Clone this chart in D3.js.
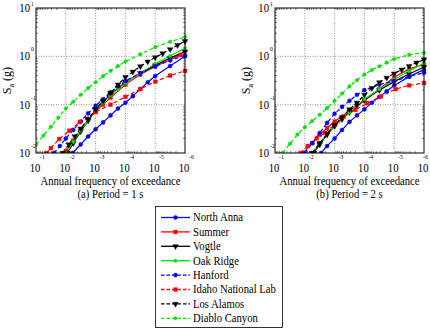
<!DOCTYPE html>
<html><head><meta charset="utf-8">
<script src="https://cdn.jsdelivr.net/npm/d3@7"></script>
<style>
body{margin:0;background:#fff}
svg{display:block}
</style>
</head><body>
<svg id="chart" width="430" height="330" font-family="'Liberation Serif','DejaVu Serif',serif"></svg>
<script>
// ---------- DATA ([annual frequency of exceedance, Sa (g)]) ----------
const siteNames = ["North Anna","Summer","Vogtle","Oak Ridge","Hanford","Idaho National Lab","Los Alamos","Diablo Canyon"];
const panelTitles = ["(a) Period = 1 s","(b) Period = 2 s"];
const xLabel = "Annual frequency of exceedance";
const xTickValues = [1e-1,1e-2,1e-3,1e-4,1e-5,1e-6];
const xTickExps = ["-1","-2","-3","-4","-5","-6"];
const yTickValues = [1e-2,1e-1,1,10];
const yTickExps = ["-2","-1","0","1"];

// Period = 1 s
const northAnna_T1 = [[5.89e-3,0.01],[3.16e-3,0.015],[1.78e-3,0.022],[1e-3,0.031],[5.62e-4,0.043],[3.16e-4,0.06],[1.78e-4,0.083],[1e-4,0.11],[5.62e-5,0.15],[3.16e-5,0.21],[1.78e-5,0.29],[1e-5,0.39],[3.16e-6,0.63],[1e-6,1.0]];
const summer_T1 = [[1e-2,0.011],[5.62e-3,0.018],[3.16e-3,0.03],[1.78e-3,0.048],[1e-3,0.072],[5.62e-4,0.1],[3.16e-4,0.14],[1e-4,0.26],[3.16e-5,0.42],[1e-5,0.62],[3.16e-6,0.85],[1.41e-6,1.07]];
const vogtle_T1 = [[8.91e-3,0.01],[5.62e-3,0.016],[3.16e-3,0.028],[1.78e-3,0.047],[1e-3,0.08],[5.62e-4,0.115],[3.16e-4,0.16],[1.78e-4,0.22],[1e-4,0.29],[3.16e-5,0.45],[1e-5,0.65],[3.16e-6,0.92],[1e-6,1.25]];
const oakRidge_T1 = [[1e-2,0.01],[5.62e-3,0.017],[3.16e-3,0.029],[1.78e-3,0.048],[1e-3,0.075],[5.62e-4,0.11],[3.16e-4,0.155],[1.78e-4,0.21],[1e-4,0.28],[3.16e-5,0.45],[1e-5,0.7],[3.16e-6,1.02],[1e-6,1.47]];
const hanford_T1 = [[2.51e-2,0.01],[1.58e-2,0.014],[1e-2,0.02],[5.62e-3,0.03],[3.16e-3,0.045],[1.78e-3,0.066],[1e-3,0.095],[5.62e-4,0.13],[3.16e-4,0.18],[1.78e-4,0.24],[1e-4,0.31],[3.16e-5,0.45],[1e-5,0.62],[3.16e-6,0.82],[1e-6,1.05]];
const idaho_T1 = [[4.47e-2,0.01],[3.16e-2,0.0126],[1.66e-2,0.0195],[7.59e-3,0.029],[3.39e-3,0.0436],[1e-3,0.07],[3.16e-4,0.1],[1e-4,0.145],[3.16e-5,0.21],[1e-5,0.3],[3.16e-6,0.4],[1e-6,0.5]];
const losAlamos_T1 = [[1.26e-2,0.01],[7.94e-3,0.015],[5.01e-3,0.022],[3.16e-3,0.032],[1.78e-3,0.05],[1e-3,0.08],[5.62e-4,0.12],[3.16e-4,0.175],[1.78e-4,0.26],[1e-4,0.37],[5.62e-5,0.48],[3.16e-5,0.62],[1.78e-5,0.78],[1e-5,0.95],[5.62e-6,1.15],[3.16e-6,1.4],[1.78e-6,1.7],[1e-6,2.05]];
const diablo_T1 = [[1e-1,0.015],[5.62e-2,0.023],[3.16e-2,0.035],[1.78e-2,0.054],[1e-2,0.083],[5.62e-3,0.115],[3.16e-3,0.16],[1.78e-3,0.22],[1e-3,0.29],[5.62e-4,0.39],[3.16e-4,0.5],[1.78e-4,0.63],[1e-4,0.78],[3.16e-5,1.1],[1e-5,1.55],[3.16e-6,2.0],[1e-6,2.5]];

// Period = 2 s
const northAnna_T2 = [[2.82e-3,0.01],[1.78e-3,0.014],[1e-3,0.02],[5.62e-4,0.03],[3.16e-4,0.044],[1.78e-4,0.06],[1e-4,0.08],[5.62e-5,0.11],[3.16e-5,0.145],[1.78e-5,0.19],[1e-5,0.25],[3.16e-6,0.38],[1e-6,0.53]];
const summer_T2 = [[1.12e-2,0.01],[5.62e-3,0.016],[3.16e-3,0.024],[1.78e-3,0.033],[1e-3,0.045],[3.16e-4,0.075],[1e-4,0.12],[3.16e-5,0.21],[1e-5,0.37],[3.16e-6,0.55],[1e-6,0.68]];
const vogtle_T2 = [[5.01e-3,0.01],[3.16e-3,0.015],[1.78e-3,0.024],[1e-3,0.036],[5.62e-4,0.05],[3.16e-4,0.07],[1.78e-4,0.095],[1e-4,0.125],[3.16e-5,0.2],[1e-5,0.3],[3.16e-6,0.43],[1e-6,0.6]];
const oakRidge_T2 = [[5.62e-3,0.01],[3.16e-3,0.016],[1.78e-3,0.025],[1e-3,0.037],[3.16e-4,0.07],[1e-4,0.13],[3.16e-5,0.21],[1e-5,0.33],[3.16e-6,0.5],[1e-6,0.72]];
const hanford_T2 = [[1e-2,0.01],[5.62e-3,0.016],[3.16e-3,0.026],[1.78e-3,0.042],[1e-3,0.065],[5.62e-4,0.09],[3.16e-4,0.12],[1.78e-4,0.16],[1e-4,0.2],[3.16e-5,0.26],[1e-5,0.31],[3.16e-6,0.38],[1e-6,0.46]];
const idaho_T2 = [[1.41e-2,0.01],[7.94e-3,0.014],[3.98e-3,0.02],[2.14e-3,0.026],[1e-3,0.038],[5.01e-4,0.057],[2.0e-4,0.078],[7.94e-5,0.107],[2.82e-5,0.147],[8.91e-6,0.21],[3.16e-6,0.25],[1e-6,0.28]];
const losAlamos_T2 = [[5.62e-3,0.01],[3.16e-3,0.016],[1.78e-3,0.025],[1e-3,0.038],[5.62e-4,0.055],[3.16e-4,0.08],[1.78e-4,0.11],[1e-4,0.16],[5.62e-5,0.22],[3.16e-5,0.29],[1.78e-5,0.36],[1e-5,0.44],[5.62e-6,0.53],[3.16e-6,0.63],[1.78e-6,0.74],[1e-6,0.86]];
const diablo_T2 = [[5.62e-2,0.01],[3.16e-2,0.0155],[1.78e-2,0.024],[1e-2,0.034],[5.62e-3,0.046],[3.16e-3,0.062],[1.78e-3,0.085],[1e-3,0.12],[5.62e-4,0.17],[3.16e-4,0.24],[1.78e-4,0.32],[1e-4,0.42],[5.62e-5,0.52],[3.16e-5,0.62],[1.78e-5,0.74],[1e-5,0.88],[3.16e-6,1.08],[1e-6,1.18]];

const seriesT1 = [northAnna_T1,summer_T1,vogtle_T1,oakRidge_T1,hanford_T1,idaho_T1,losAlamos_T1,diablo_T1];
const seriesT2 = [northAnna_T2,summer_T2,vogtle_T2,oakRidge_T2,hanford_T2,idaho_T2,losAlamos_T2,diablo_T2];

// ---------- STYLE ----------
const FONT = "'Liberation Serif','DejaVu Serif',serif";
const SQ = 0.89; // horizontal squeeze of the reference lettering
const colors = ["#0000ff","#ff0000","#000000","#00e000","#0000ff","#ff0000","#000000","#00e000"];
const dashed = [false,false,false,false,true,true,true,true];
const shapes = ["circle","square","tri","dot","circle","square","tri","dot"];

const svg = d3.select("#chart");
const plotTop = 8, plotBottom = 153, plotW = 149;
const panels = [{left:36, data:seriesT1, title:panelTitles[0]},{left:275, data:seriesT2, title:panelTitles[1]}];

function symbolPath(shape){
  if(shape==="circle") return d3.symbol(d3.symbolCircle, 13)();
  if(shape==="square") return d3.symbol(d3.symbolSquare, 14)();
  if(shape==="tri") return d3.symbol(d3.symbolTriangle, 14)();
  return d3.symbol(d3.symbolCircle, 10)();
}
// squeezed text placed at (x, y)
function stext(sel, x, y, size, str, anchor){
  return sel.append("text").attr("font-family",FONT).attr("fill","#000")
    .attr("transform",`scale(${SQ},1)`)
    .attr("x",(x/SQ).toFixed(2)).attr("y",y).attr("font-size",size)
    .attr("text-anchor",anchor||"start").text(str);
}

panels.forEach((p, pi) => {
  const x = d3.scaleLog().domain([1e-1,1e-6]).range([p.left, p.left+plotW]);
  const y = d3.scaleLog().domain([1e-2,10]).range([plotBottom, plotTop]);
  const g = svg.append("g");

  // grid
  xTickValues.slice(1,-1).forEach(v=>{
    g.append("line").attr("x1",x(v)).attr("x2",x(v)).attr("y1",plotTop).attr("y2",plotBottom)
      .attr("stroke","#777").attr("stroke-width",0.8).attr("stroke-dasharray","1,1.5");
  });
  yTickValues.slice(1,-1).forEach(v=>{
    g.append("line").attr("x1",p.left).attr("x2",p.left+plotW).attr("y1",y(v)).attr("y2",y(v))
      .attr("stroke","#777").attr("stroke-width",0.8).attr("stroke-dasharray","1,1.5");
  });

  // minor ticks
  const minorY = [];
  [0.01,0.1,1].forEach(d=>{for(let k=2;k<10;k++) minorY.push(d*k);});
  minorY.forEach(v=>{
    g.append("line").attr("x1",p.left).attr("x2",p.left+2).attr("y1",y(v)).attr("y2",y(v)).attr("stroke","#000").attr("stroke-width",0.5);
    g.append("line").attr("x1",p.left+plotW).attr("x2",p.left+plotW-2).attr("y1",y(v)).attr("y2",y(v)).attr("stroke","#000").attr("stroke-width",0.5);
  });
  const minorX = [];
  [1e-6,1e-5,1e-4,1e-3,1e-2].forEach(d=>{for(let k=2;k<10;k++) minorX.push(d*k);});
  minorX.forEach(v=>{
    g.append("line").attr("x1",x(v)).attr("x2",x(v)).attr("y1",plotBottom).attr("y2",plotBottom-2).attr("stroke","#000").attr("stroke-width",0.5);
    g.append("line").attr("x1",x(v)).attr("x2",x(v)).attr("y1",plotTop).attr("y2",plotTop+2).attr("stroke","#000").attr("stroke-width",0.5);
  });

  // clip
  const cid = "clip"+pi;
  svg.append("clipPath").attr("id",cid).append("rect")
    .attr("x",p.left).attr("y",plotTop-3).attr("width",plotW+3).attr("height",plotBottom-plotTop+3);
  const cg = g.append("g").attr("clip-path",`url(#${cid})`);
  const line = d3.line().x(d=>x(d[0])).y(d=>y(d[1]));

  p.data.forEach((s, i) => {
    cg.append("path").datum(s).attr("d",line).attr("fill","none")
      .attr("stroke",colors[i]).attr("stroke-width",1.2)
      .attr("stroke-dasharray",dashed[i]?"4,2.5":null);
  });
  p.data.forEach((s, i) => {
    cg.selectAll(null).data(s).enter().append("path")
      .attr("d",symbolPath(shapes[i]))
      .attr("transform",d=>`translate(${x(d[0])},${y(d[1])})`+(shapes[i]==="tri"?" rotate(180)":""))
      .attr("fill",colors[i]).attr("stroke",colors[i]).attr("stroke-width",0.4);
  });

  // frame
  g.append("rect").attr("x",p.left).attr("y",plotTop).attr("width",plotW).attr("height",plotBottom-plotTop)
    .attr("fill","none").attr("stroke","#000").attr("stroke-width",1);

  // x tick labels
  xTickValues.forEach((v,k)=>{
    stext(g, x(v)-1, 172, 12, "10", "middle");
    stext(g, Math.min(x(v)+4, 423), 159.5, 6.5, xTickExps[k]);
  });
  // y tick labels
  yTickValues.forEach((v,k)=>{
    stext(g, p.left-6, y(v)+4, 12, "10", "end");
    stext(g, p.left-5, Math.max(y(v)-5, 6), 6.5, yTickExps[k]);
  });
  // axis labels
  stext(g, p.left+plotW/2, 185, 12, xLabel, "middle");
  stext(g, p.left+plotW/2, 198, 12, p.title, "middle");
  const yl = g.append("text").attr("font-family",FONT).attr("fill","#000")
    .attr("transform",`translate(${p.left-25.5},${(plotTop+plotBottom)/2}) rotate(-90)`)
    .attr("text-anchor","middle").attr("font-size",12);
  yl.append("tspan").text("S");
  yl.append("tspan").attr("font-size",8).attr("dy",3).text("a");
  yl.append("tspan").attr("dy",-3).text(" (g)");
});

// legend
const lg = svg.append("g");
lg.append("rect").attr("x",155.5).attr("y",206.5).attr("width",127).attr("height",121)
  .attr("fill","#fff").attr("stroke","#000").attr("stroke-width",0.8);
siteNames.forEach((name,i)=>{
  const yy = 217.5 + i*14.4;
  lg.append("line").attr("x1",161).attr("x2",190).attr("y1",yy).attr("y2",yy)
    .attr("stroke",colors[i]).attr("stroke-width",1.3).attr("stroke-dasharray",dashed[i]?"3.5,2":null);
  lg.append("path").attr("d",symbolPath(shapes[i]))
    .attr("transform",`translate(175.5,${yy})`+(shapes[i]==="tri"?" rotate(180)":""))
    .attr("fill",colors[i]).attr("stroke",colors[i]).attr("stroke-width",0.4);
  stext(lg, 193, yy+4, 12, name);
});
</script>
</body></html>
